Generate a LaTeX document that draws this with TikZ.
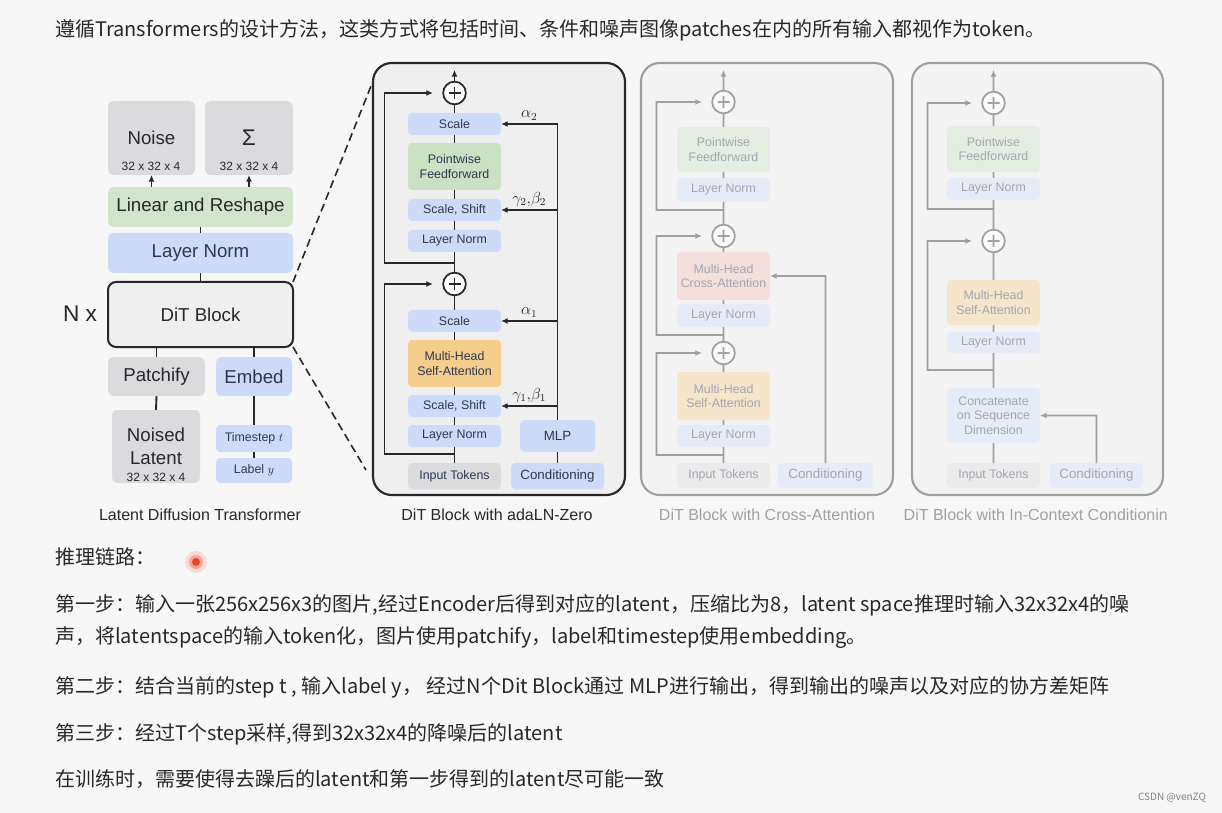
\documentclass[tikz,border=0pt]{standalone}
\usepackage{fontspec}
\setmainfont{Liberation Sans}
\newfontfamily\cjk{Noto Sans CJK SC}
\usetikzlibrary{arrows.meta,positioning,calc}
\definecolor{paper}{RGB}{247,247,247}
\definecolor{ink}{RGB}{40,40,42}
\definecolor{navytxt}{RGB}{45,55,80}
\definecolor{boxgrey}{RGB}{219,219,222}
\definecolor{boxblue}{RGB}{205,219,248}
\definecolor{boxgreen}{RGB}{211,228,204}
\definecolor{ffgreen}{RGB}{204,225,195}
\definecolor{boxorange}{RGB}{245,205,140}
\definecolor{boxred}{RGB}{244,190,184}
\definecolor{panelbg}{RGB}{239,239,240}
\definecolor{dotred}{RGB}{235,70,40}
\tikzset{
  >={Latex[length=5pt,width=4.5pt]},
  % box from corner (x1/y1) to corner (x2/y2), in pixels
  rect/.style args={#1/#2/#3/#4}{minimum width={(#3-#1)*0.75pt},minimum height={(#4-#2)*0.75pt},
    at={({(#1+#3)/2},{(#2+#4)/2})}},
  blk/.style={fill=#1,rounded corners=3pt,inner sep=0pt,outer sep=0pt,align=center,
    text=navytxt,font=\fontsize{9.3}{11}\selectfont},
  blk/.default=boxblue,
  big/.style={fill=#1,rounded corners=4pt,inner sep=0pt,outer sep=0pt,align=center,
    text=ink,font=\fontsize{14}{17}\selectfont},
  big/.default=boxgrey,
  panel/.style={draw=ink,line width=1.6pt,fill=panelbg,rounded corners=14pt,inner sep=0pt},
  addc/.style={circle,draw=ink,line width=1.3pt,fill=white,minimum size=17pt,inner sep=0pt,
    path picture={\draw[ink,line width=1.2pt]
      ([yshift=-4pt]path picture bounding box.north) -- ([yshift=4pt]path picture bounding box.south)
      ([xshift=4pt]path picture bounding box.west) -- ([xshift=-4pt]path picture bounding box.east);}},
  wire/.style={draw=ink,line width=1.4pt},
  glab/.style={font=\fontsize{11.5}{13}\selectfont,text=ink,inner sep=2pt},
  sz/.style={font=\fontsize{9}{10}\selectfont,text=ink},
  captxt/.style={font=\fontsize{12}{14}\selectfont,text=ink},
  zh/.style={anchor=west,font=\cjk\fontsize{15}{18}\selectfont,text=ink,inner sep=0pt},
}
\begin{document}
\begin{tikzpicture}[x=0.75pt,y=-0.75pt]
  \useasboundingbox (0,0) rectangle (1222,813);
  \fill[paper] (0,0) rectangle (1222,813);

  \node[zh] (intro) at (55,30) {遵循Transformers的设计方法，这类方式将包括时间、条件和噪声图像patches在内的所有输入都视作为token。};

  % latent diffusion transformer
  \node[big,rect=108/101/195/175] (noise) {Noise};
  \node[big,rect=205/101/293/175,font=\fontsize{17}{19}\selectfont] (sigma) {Σ};
  \node[sz] at (151,166) {32 x 32 x 4};
  \node[sz] at (249,166) {32 x 32 x 4};
  \node[big=boxgreen,rect=108/187/293/227] (lin) {Linear and Reshape};
  \node[big=boxblue,rect=108/233/293/273,text=navytxt] (lnf) {Layer Norm};
  \node[big=panelbg,draw=ink,line width=1.5pt,rounded corners=6pt,rect=108/282/293/347] (dit) {DiT Block};
  \node[font=\fontsize{17}{19}\selectfont,text=ink] (nx) at (80,314) {N x};
  \node[big,rect=108/357/205/396] (patch) {Patchify};
  \node[big=boxblue,rect=216/357/292/396,text=navytxt] (embed) {Embed};
  \node[big,rect=112/410/200/483] (lat) {Noised\\Latent};
  \node[sz] at (156,477) {32 x 32 x 4};
  \node[blk,rect=216/425/292/452] (ts) {Timestep $t$};
  \node[blk,rect=216/458/292/483] (lab) {Label $y$};
  \node[captxt] at (200,515) {Latent Diffusion Transformer};

  \draw[wire,->] (lin.north -| noise.south) -- (noise.south);
  \draw[wire,->] (lin.north -| sigma.south) -- (sigma.south);
  \draw[wire] (lin.south) -- (lnf.north);
  \draw[wire] (lnf.south) -- (dit.north);
  \draw[wire] (patch.north) -- (patch.north |- dit.south);
  \draw[wire] (embed.north) -- (embed.north |- dit.south);
  \draw[wire] (patch.south) -- (lat.north);
  \draw[wire] (embed.south) -- (ts.north);
  \draw[wire] (ts.south) -- (lab.north);

  % zoom lines
  \coordinate (zt) at (371,86);
  \coordinate (zb) at (366,470);
  \draw[ink,line width=1.2pt,dash pattern=on 6pt off 3.5pt] (dit.north east) -- (zt);
  \draw[ink,line width=1.2pt,dash pattern=on 6pt off 3.5pt] (dit.south east) -- (zb);

  % DiT block with adaLN-Zero
  \node[panel,rect=373/63/625/495] (ada) {};
  \node[addc] (a2) at (454.5,93) {};
  \node[blk,rect=408/113/501/135] (sc2) {Scale};
  \node[blk=ffgreen,rect=408/143/501/190] (pf) {Pointwise\\Feedforward};
  \node[blk,rect=408/199/501/221] (ss2) {Scale, Shift};
  \node[blk,rect=408/230/501/252] (ln2) {Layer Norm};
  \coordinate (r2) at (454.5,263);
  \node[addc] (a1) at (454.5,284) {};
  \node[blk,rect=408/310/501/332] (sc1) {Scale};
  \node[blk=boxorange,rect=408/340/501/387] (msa) {Multi-Head\\Self-Attention};
  \node[blk,rect=408/395/501/417] (ss1) {Scale, Shift};
  \node[blk,rect=408/425/501/447] (ln1) {Layer Norm};
  \coordinate (r1) at (454.5,454);
  \node[blk=boxgrey,rect=408/463/501/489] (inp) {Input Tokens};
  \node[blk,rect=520/420/595/452,font=\fontsize{10}{12}\selectfont] (mlp) {MLP};
  \node[blk,rect=511/463/604/489,font=\fontsize{10}{12}\selectfont] (cond) {Conditioning};
  \coordinate (out2) at (454.5,70);
  \node[captxt] at (497,515) {DiT Block with adaLN-Zero};

  \foreach \a/\b in {sc2/a2,pf/sc2,ss2/pf,ln2/ss2,a1/ln2,sc1/a1,msa/sc1,ss1/msa,ln1/ss1,inp/ln1,cond/mlp}
    \draw[wire] (\a.north) -- (\b.south);
  \draw[wire,->] (a2.north) -- (out2);
  \draw[wire,->,shorten >=7pt] (r2) -- ++(-70,0) |- (a2.west);
  \draw[wire,->,shorten >=7pt] (r1) -- ++(-70,0) |- (a1.west);
  \draw[wire,->] (mlp.north) |- node[pos=0.75,above,glab]{$\alpha_2$} (sc2.east);
  \draw[wire,->] (mlp.north |- ss2.east) -- node[above,glab]{$\gamma_2{,}\beta_2$} (ss2.east);
  \draw[wire,->] (mlp.north |- sc1.east) -- node[above,glab]{$\alpha_1$} (sc1.east);
  \draw[wire,->] (mlp.north |- ss1.east) -- node[above,glab]{$\gamma_1{,}\beta_1$} (ss1.east);

  \begin{scope}[transparency group,opacity=0.42]
    % DiT block with cross-attention
    \node[panel,rect=641/63/893/495] (cro) {};
    \node[addc] (ca3) at (723.5,102) {};
    \node[blk=ffgreen,rect=677/127/770/172] (cpf) {Pointwise\\Feedforward};
    \node[blk,rect=677/178/770/202] (cln3) {Layer Norm};
    \coordinate (cr3) at (723.5,210);
    \node[addc] (ca2) at (723.5,236) {};
    \node[blk=boxred,rect=677/252/770/300] (cmca) {Multi-Head\\Cross-Attention};
    \node[blk,rect=677/304/770/327] (cln2) {Layer Norm};
    \coordinate (cr2) at (723.5,335);
    \node[addc] (ca1) at (723.5,353) {};
    \node[blk=boxorange,rect=677/372/770/420] (cmsa) {Multi-Head\\Self-Attention};
    \node[blk,rect=677/425/770/447] (cln1) {Layer Norm};
    \coordinate (cr1) at (723.5,455);
    \node[blk=boxgrey,rect=677/463/770/488] (cinp) {Input Tokens};
    \node[blk,rect=778/463/873/488,font=\fontsize{10}{12}\selectfont] (ccond) {Conditioning};
    \coordinate (cout) at (723.5,70);
    \node[captxt] at (767,515) {DiT Block with Cross-Attention};
    \foreach \a/\b in {cpf/ca3,cln3/cpf,ca2/cln3,cmca/ca2,cln2/cmca,ca1/cln2,cmsa/ca1,cln1/cmsa,cinp/cln1}
      \draw[wire] (\a.north) -- (\b.south);
    \draw[wire,->] (ca3.north) -- (cout);
    \draw[wire,->,shorten >=7pt] (cr3) -- ++(-67,0) |- (ca3.west);
    \draw[wire,->,shorten >=7pt] (cr2) -- ++(-67,0) |- (ca2.west);
    \draw[wire,->,shorten >=7pt] (cr1) -- ++(-67,0) |- (ca1.west);
    \draw[wire,->] (ccond.north) |- (cmca.east);

    % DiT block with in-context conditioning
    \node[panel,rect=912/63/1163/495] (inc) {};
    \node[addc] (ia2) at (993.5,103) {};
    \node[blk=ffgreen,rect=947/126/1040/172] (ipf) {Pointwise\\Feedforward};
    \node[blk,rect=947/178/1040/200] (iln2) {Layer Norm};
    \coordinate (ir2) at (993.5,209);
    \node[addc] (ia1) at (993.5,241) {};
    \node[blk=boxorange,rect=947/280/1040/325] (imsa) {Multi-Head\\Self-Attention};
    \node[blk,rect=947/332/1040/353] (iln1) {Layer Norm};
    \coordinate (ir1) at (993.5,370);
    \node[blk,rect=947/388/1040/443] (icat) {Concatenate\\on Sequence\\Dimension};
    \node[blk=boxgrey,rect=947/463/1040/488] (iinp) {Input Tokens};
    \node[blk,rect=1050/463/1143/488,font=\fontsize{10}{12}\selectfont] (icond) {Conditioning};
    \coordinate (iout) at (993.5,70);
    \node[captxt,anchor=west] at (899,515) {DiT Block with In-Context Conditionin};
    \foreach \a/\b in {ipf/ia2,iln2/ipf,ia1/iln2,imsa/ia1,iln1/imsa,icat/iln1,iinp/icat}
      \draw[wire] (\a.north) -- (\b.south);
    \draw[wire,->] (ia2.north) -- (iout);
    \draw[wire,->,shorten >=7pt] (ir2) -- ++(-66,0) |- (ia2.west);
    \draw[wire,->,shorten >=7pt] (ir1) -- ++(-66,0) |- (ia1.west);
    \draw[wire,->] (icond.north) |- (icat.east);
  \end{scope}

  % reasoning steps
  \node[zh] (chain) at (55,557) {推理链路：};
  \fill[dotred,opacity=0.15] (196,562) circle (11);
  \fill[dotred,opacity=0.35] (196,562) circle (7);
  \fill[dotred] (196,562) circle (4);
  \node[zh] (s1a) at (55,605) {第一步：输入一张256x256x3的图片,经过Encoder后得到对应的latent，压缩比为8，latent space推理时输入32x32x4的噪};
  \node[zh] (s1b) at (55,638) {声，将latentspace的输入token化，图片使用patchify，label和timestep使用embedding。};
  \node[zh] (s2) at (55,687) {第二步：结合当前的step t , 输入label y， 经过N个Dit Block通过 MLP进行输出，得到输出的噪声以及对应的协方差矩阵};
  \node[zh] (s3) at (55,734) {第三步：经过T个step采样,得到32x32x4的降噪后的latent};
  \node[zh] (tr) at (55,779) {在训练时，需要使得去躁后的latent和第一步得到的latent尽可能一致};
  \node[font=\cjk\fontsize{7.5}{9}\selectfont,text=gray] (mark) at (1172,798) {CSDN @venZQ};
\end{tikzpicture}
\end{document}
